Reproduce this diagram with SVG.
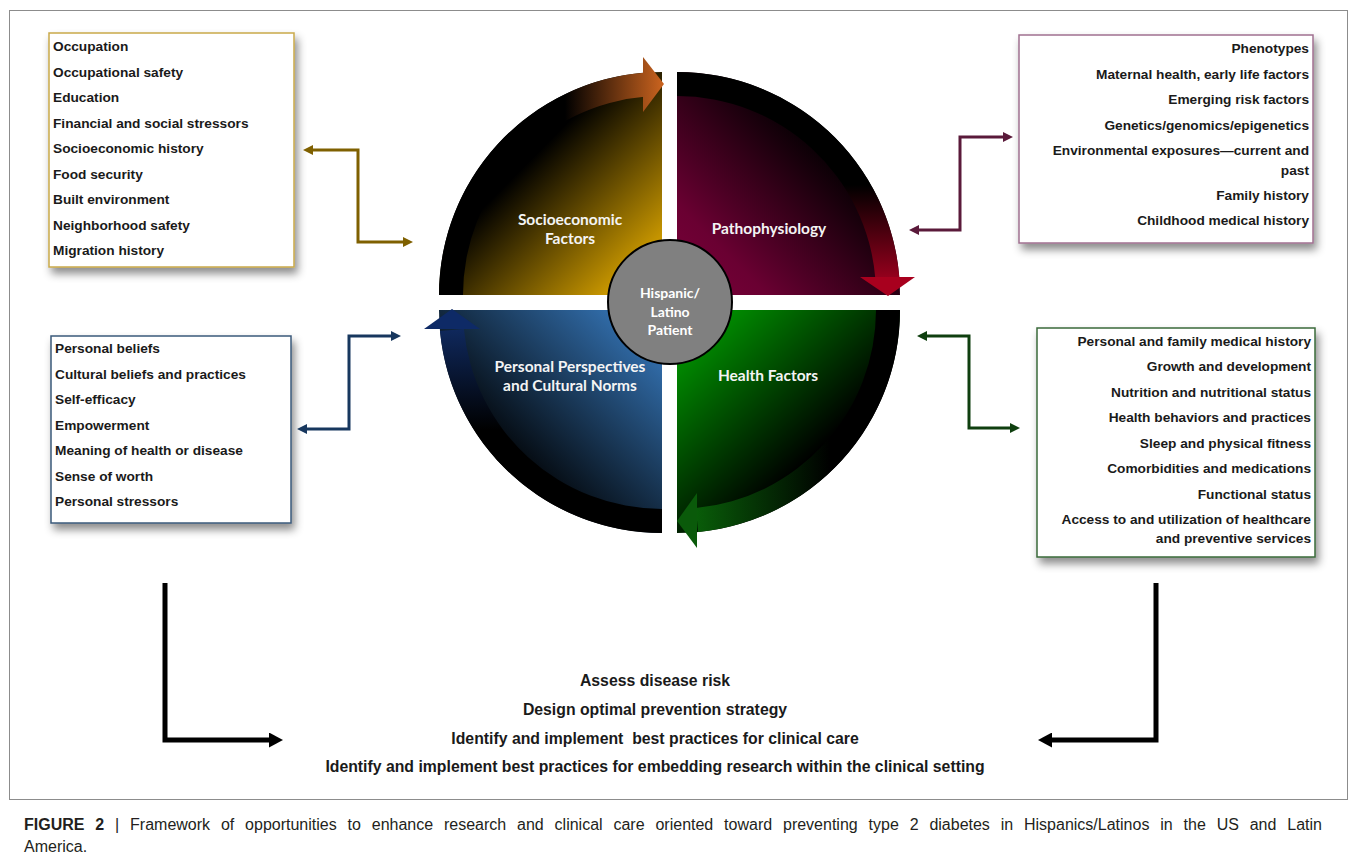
<svg xmlns="http://www.w3.org/2000/svg" width="1358" height="864" viewBox="0 0 1358 864">
<style>
.bt{font-family:"Liberation Sans",Arial,sans-serif;font-weight:bold;font-size:13.7px;fill:#1a1a1a}
.r{text-anchor:end}
.ql{font-family:Lato,"Open Sans",sans-serif;font-weight:bold;font-size:15.5px;fill:#f4f4f4;text-anchor:middle}
.cl{font-family:Lato,"Open Sans",sans-serif;font-weight:bold;font-size:14px;fill:#ffffff;text-anchor:middle}
.bot{font-family:"Liberation Sans",Arial,sans-serif;font-weight:bold;font-size:15.8px;fill:#1a1a1a;text-anchor:middle}
.cap{font-family:"Liberation Sans",Arial,sans-serif;font-size:16px;fill:#231f20}
.box{fill:#ffffff;stroke-width:1.5}
.cn{fill:none;stroke-width:3;stroke-linejoin:miter}
</style>
<defs>
<filter id="sh" x="-10%" y="-10%" width="125%" height="130%">
<feDropShadow dx="3" dy="6" stdDeviation="4" flood-color="#000" flood-opacity="0.45"/>
</filter>
<linearGradient id="wTL" gradientUnits="userSpaceOnUse" x1="465" y1="100" x2="662" y2="295"><stop offset="0" stop-color="#000"/><stop offset="0.32" stop-color="#000"/><stop offset="1" stop-color="#FFC000"/></linearGradient>
<linearGradient id="wTR" gradientUnits="userSpaceOnUse" x1="690" y1="290" x2="870" y2="110"><stop offset="0" stop-color="#780038"/><stop offset="0.2" stop-color="#6a0032"/><stop offset="0.8" stop-color="#000"/></linearGradient>
<linearGradient id="wBR" gradientUnits="userSpaceOnUse" x1="680" y1="312" x2="860" y2="500"><stop offset="0" stop-color="#00A800"/><stop offset="0.75" stop-color="#000"/></linearGradient>
<linearGradient id="wBL" gradientUnits="userSpaceOnUse" x1="660" y1="312" x2="470" y2="510"><stop offset="0" stop-color="#3A80C8"/><stop offset="0.8" stop-color="#000"/></linearGradient>
<linearGradient id="bTL" gradientUnits="userSpaceOnUse" x1="565" y1="0" x2="662" y2="0"><stop offset="0" stop-color="#000"/><stop offset="1" stop-color="#C8621E"/></linearGradient>
<linearGradient id="bTR" gradientUnits="userSpaceOnUse" x1="0" y1="185" x2="0" y2="295"><stop offset="0" stop-color="#000"/><stop offset="1" stop-color="#B00022"/></linearGradient>
<linearGradient id="bBR" gradientUnits="userSpaceOnUse" x1="830" y1="0" x2="677" y2="0"><stop offset="0" stop-color="#000"/><stop offset="1" stop-color="#0A6A0A"/></linearGradient>
<linearGradient id="bBL" gradientUnits="userSpaceOnUse" x1="0" y1="430" x2="0" y2="310"><stop offset="0" stop-color="#000"/><stop offset="1" stop-color="#12306E"/></linearGradient>
<marker id="mGold" viewBox="0 0 10 10" refX="0" refY="5" markerWidth="10" markerHeight="10" markerUnits="userSpaceOnUse" orient="auto-start-reverse"><path d="M0,0 L10,5 L0,10 z" fill="#7F6000"/></marker>
<marker id="mMar" viewBox="0 0 10 10" refX="0" refY="5" markerWidth="10" markerHeight="10" markerUnits="userSpaceOnUse" orient="auto-start-reverse"><path d="M0,0 L10,5 L0,10 z" fill="#5A1A3A"/></marker>
<marker id="mNavy" viewBox="0 0 10 10" refX="0" refY="5" markerWidth="10" markerHeight="10" markerUnits="userSpaceOnUse" orient="auto-start-reverse"><path d="M0,0 L10,5 L0,10 z" fill="#17375E"/></marker>
<marker id="mGreen" viewBox="0 0 10 10" refX="0" refY="5" markerWidth="10" markerHeight="10" markerUnits="userSpaceOnUse" orient="auto-start-reverse"><path d="M0,0 L10,5 L0,10 z" fill="#0F3F0F"/></marker>
<marker id="mBlack" viewBox="0 0 14 15" refX="0" refY="7.5" markerWidth="14" markerHeight="15" markerUnits="userSpaceOnUse" orient="auto-start-reverse"><path d="M0,0 L14,7.5 L0,15 z" fill="#000"/></marker>
</defs>
<rect x="0" y="0" width="1358" height="864" fill="#ffffff"/>
<rect x="9.5" y="10.5" width="1338" height="789" fill="none" stroke="#8c8c8c" stroke-width="1"/>

<g id="quadrant-socioeconomic">
<path d="M662,295 L439,295 A223,223 0 0 1 662,72 Z" fill="url(#wTL)"/>
<path d="M439,295 A223,223 0 0 1 644.2,72.7 L646.1,96.6 A199,199 0 0 0 463,295 Z" fill="url(#bTL)"/>
<polygon points="643,57 664,84 643,112" fill="url(#bTL)"/>
<text class="ql" x="570" y="225">Socioeconomic</text>
<text class="ql" x="570" y="244">Factors</text>
</g>
<g id="quadrant-pathophysiology">
<path d="M677,295 L677,72 A223,223 0 0 1 900,295 Z" fill="url(#wTR)"/>
<path d="M677,72 A223,223 0 0 1 899.3,277 L875.4,279 A199,199 0 0 0 677,96 Z" fill="url(#bTR)"/>
<polygon points="860,277 915,277 888,296" fill="#A8001E"/>
<text class="ql" x="769" y="234">Pathophysiology</text>
</g>
<g id="quadrant-health">
<path d="M677,310 L900,310 A223,223 0 0 1 677,533 Z" fill="url(#wBR)"/>
<path d="M900,310 A223,223 0 0 1 698.1,532 L695.9,508.1 A199,199 0 0 0 876,310 Z" fill="url(#bBR)"/>
<polygon points="697,493 697,548 677,521" fill="#0A5A0A"/>
<text class="ql" x="768" y="381">Health Factors</text>
</g>
<g id="quadrant-personal">
<path d="M662,310 L662,533 A223,223 0 0 1 439,310 Z" fill="url(#wBL)"/>
<path d="M662,533 A223,223 0 0 1 440,331.1 L463.9,328.9 A199,199 0 0 0 662,509 Z" fill="url(#bBL)"/>
<polygon points="424,329 480,329 452,309" fill="#0E2A66"/>
<text class="ql" x="570" y="372">Personal Perspectives</text>
<text class="ql" x="570" y="391">and Cultural Norms</text>
</g>
<g id="center-patient">
<circle cx="670" cy="302" r="62" fill="#808080" stroke="#000" stroke-width="2"/>
<text class="cl" x="670" y="298">Hispanic/</text>
<text class="cl" x="670" y="317">Latino</text>
<text class="cl" x="670" y="335">Patient</text>
</g>

<g id="box-socioeconomic">
<rect class="box" x="49" y="33" width="245" height="234" stroke="#C9A94A" filter="url(#sh)"/>
<text class="bt" x="53" y="51">Occupation</text>
<text class="bt" x="53" y="76.5">Occupational safety</text>
<text class="bt" x="53" y="102">Education</text>
<text class="bt" x="53" y="127.5">Financial and social stressors</text>
<text class="bt" x="53" y="153">Socioeconomic history</text>
<text class="bt" x="53" y="178.5">Food security</text>
<text class="bt" x="53" y="204">Built environment</text>
<text class="bt" x="53" y="229.5">Neighborhood safety</text>
<text class="bt" x="53" y="255">Migration history</text>
</g>
<g id="box-pathophysiology">
<rect class="box" x="1019" y="35" width="294" height="208" stroke="#A07090" filter="url(#sh)"/>
<text class="bt r" x="1309" y="53">Phenotypes</text>
<text class="bt r" x="1309" y="78.5">Maternal health, early life factors</text>
<text class="bt r" x="1309" y="104">Emerging risk factors</text>
<text class="bt r" x="1309" y="129.5">Genetics/genomics/epigenetics</text>
<text class="bt r" x="1309" y="155">Environmental exposures—current and</text>
<text class="bt r" x="1309" y="175">past</text>
<text class="bt r" x="1309" y="200">Family history</text>
<text class="bt r" x="1309" y="225">Childhood medical history</text>
</g>
<g id="box-personal">
<rect class="box" x="51" y="336" width="240" height="187" stroke="#3B5A7A" filter="url(#sh)"/>
<text class="bt" x="55" y="353">Personal beliefs</text>
<text class="bt" x="55" y="378.5">Cultural beliefs and practices</text>
<text class="bt" x="55" y="404">Self-efficacy</text>
<text class="bt" x="55" y="429.5">Empowerment</text>
<text class="bt" x="55" y="455">Meaning of health or disease</text>
<text class="bt" x="55" y="480.5">Sense of worth</text>
<text class="bt" x="55" y="506">Personal stressors</text>
</g>
<g id="box-health">
<rect class="box" x="1037" y="328" width="278" height="229" stroke="#3A6A3A" filter="url(#sh)"/>
<text class="bt r" x="1311" y="346">Personal and family medical history</text>
<text class="bt r" x="1311" y="371">Growth and development</text>
<text class="bt r" x="1311" y="396.5">Nutrition and nutritional status</text>
<text class="bt r" x="1311" y="422">Health behaviors and practices</text>
<text class="bt r" x="1311" y="447.5">Sleep and physical fitness</text>
<text class="bt r" x="1311" y="473">Comorbidities and medications</text>
<text class="bt r" x="1311" y="498.5">Functional status</text>
<text class="bt r" x="1311" y="524">Access to and utilization of healthcare</text>
<text class="bt r" x="1311" y="543">and preventive services</text>
</g>

<g id="connectors">
<path class="cn" d="M313,150 H358 V242 H403" stroke="#7F6000" marker-start="url(#mGold)" marker-end="url(#mGold)"/>
<path class="cn" d="M1003,137 H960 V230 H919" stroke="#5A1A3A" marker-start="url(#mMar)" marker-end="url(#mMar)"/>
<path class="cn" d="M391,336 H349 V429 H307" stroke="#17375E" marker-start="url(#mNavy)" marker-end="url(#mNavy)"/>
<path class="cn" d="M927,336 H969 V428 H1010" stroke="#0F3F0F" marker-start="url(#mGreen)" marker-end="url(#mGreen)"/>
<path d="M165,583 V740 H269" fill="none" stroke="#000" stroke-width="5" marker-end="url(#mBlack)"/>
<path d="M1156,583 V740 H1052" fill="none" stroke="#000" stroke-width="5" marker-end="url(#mBlack)"/>
</g>

<g id="outcomes">
<text class="bot" x="655" y="686">Assess disease risk</text>
<text class="bot" x="655" y="715">Design optimal prevention strategy</text>
<text class="bot" x="655" y="744" xml:space="preserve">Identify and implement  best practices for clinical care</text>
<text class="bot" x="655" y="772">Identify and implement best practices for embedding research within the clinical setting</text>
</g>

<g id="caption">
<text class="cap" x="24" y="830" word-spacing="6.4"><tspan font-weight="bold">FIGURE 2</tspan> | Framework of opportunities to enhance research and clinical care oriented toward preventing type 2 diabetes in Hispanics/Latinos in the US and Latin</text>
<text class="cap" x="24" y="852">America.</text>
</g>
</svg>
